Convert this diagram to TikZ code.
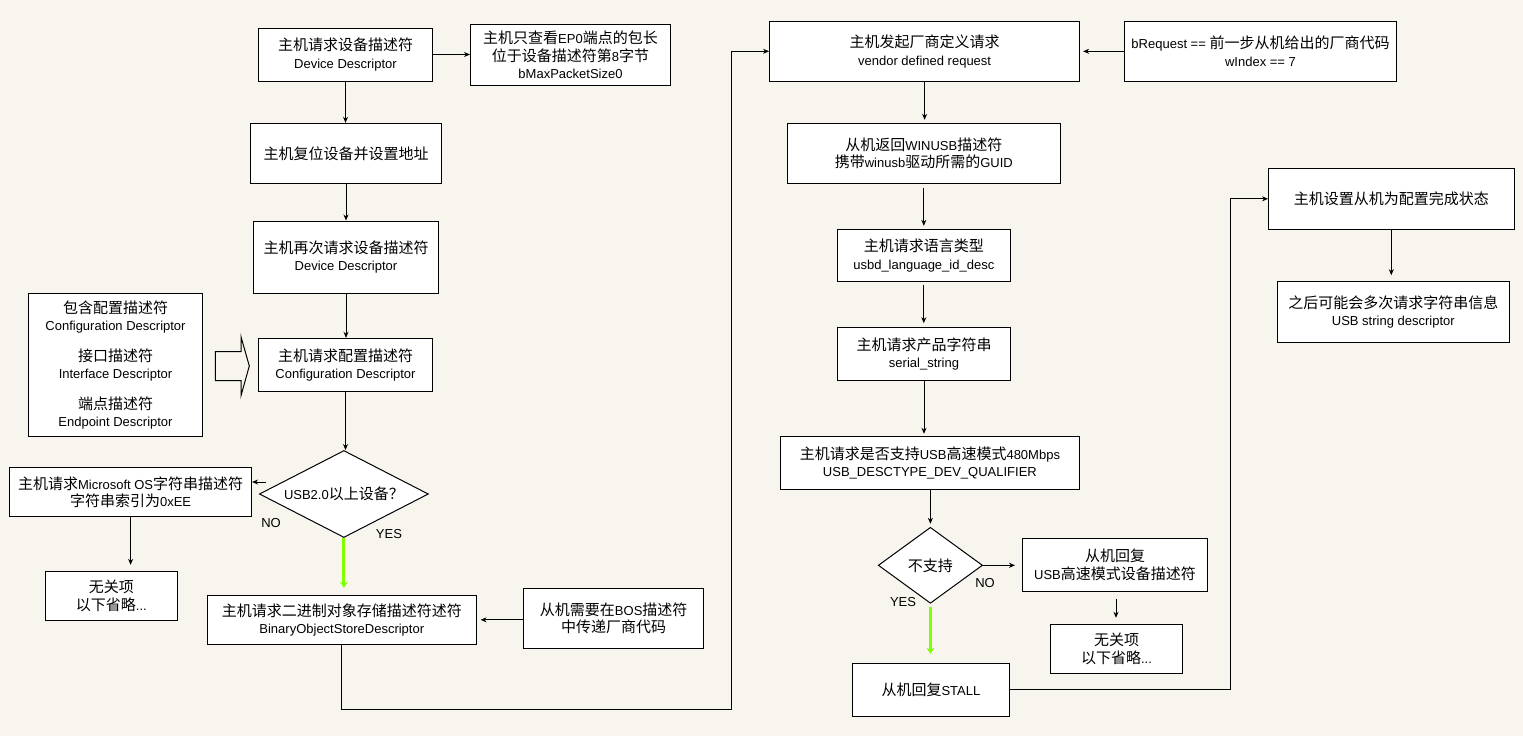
\documentclass[tikz,border=0pt]{standalone}
\usepackage{fontspec}
\setmainfont{Liberation Sans}
\newfontfamily\zhfont{Noto Sans CJK SC}
\usetikzlibrary{shapes.geometric,arrows.meta}
\newcommand\zc[1]{{\zhfont\fontsize{15}{17.5}\selectfont #1}}
\definecolor{bgc}{RGB}{248,245,238}
\definecolor{limec}{RGB}{128,255,0}
\begin{document}
\begin{tikzpicture}[x=1pt,y=-1pt,
 every node/.style={font=\fontsize{13}{17.5}\selectfont},
 box/.style={draw=black, line width=1pt, fill=white, align=center, inner sep=0pt},
 dec/.style={draw=black, line width=1pt, fill=white, shape=diamond, inner sep=0pt, align=center},
 arr/.style={line width=0.8pt, -{Stealth[length=6pt,width=5pt]}},
 garr/.style={draw=limec, line width=3pt, -{Stealth[length=6pt,width=8pt]}},
 lbl/.style={inner sep=0pt}]
\fill[bgc] (0,0) rectangle (1523,736);
\useasboundingbox (0,0) rectangle (1523,736);

% left column
\node[box, minimum width=174pt, minimum height=53pt] (dd1) at (345.5,54.5) {\zc{主机请求设备描述符}\\Device Descriptor};
\node[box, minimum width=200pt, minimum height=61pt] (ep0) at (570.5,54.8) {\zc{主机只查看}EP0\zc{端点的包长}\\\zc{位于设备描述符第}8\zc{字节}\\bMaxPacketSize0};
\node[box, minimum width=191pt, minimum height=60pt] (reset) at (346,153.3) {\zc{主机复位设备并设置地址}};
\node[box, minimum width=185pt, minimum height=72pt] (dd2) at (346,257) {\zc{主机再次请求设备描述符}\\Device Descriptor};
\node[box, minimum width=174pt, minimum height=143pt] (info) at (115.5,364.8) {\zc{包含配置描述符}\\Configuration Descriptor\\[13pt]\zc{接口描述符}\\Interface Descriptor\\[13pt]\zc{端点描述符}\\Endpoint Descriptor};
\node[box, minimum width=174pt, minimum height=53pt] (config) at (345.5,364.8) {\zc{主机请求配置描述符}\\Configuration Descriptor};
\node[dec, aspect=1.94, minimum width=169pt, minimum height=87pt] (dia1) at (343.9,494) {USB2.0\zc{以上设备？}};
\node[box, minimum width=242pt, minimum height=48.6pt] (msos) at (130.6,492) {\zc{主机请求}Microsoft OS\zc{字符串描述符}\\\zc{字符串索引为}0xEE};
\node[box, minimum width=131.7pt, minimum height=49pt] (nr1) at (111.4,595.8) {\zc{无关项}\\\zc{以下省略}...};
\node[box, minimum width=268.6pt, minimum height=49pt] (bos) at (341.8,619.8) {\zc{主机请求二进制对象存储描述符述符}\\BinaryObjectStoreDescriptor};
\node[box, minimum width=180.5pt, minimum height=60pt] (bosv) at (613.7,618.3) {\zc{从机需要在}BOS\zc{描述符}\\\zc{中传递厂商代码}};

% big hollow arrow
\draw[line width=1pt] (215.3,351.7) -- (241,351.7) -- (241,336.7) -- (249.3,366) -- (241,395.7) -- (241,380.7) -- (215.3,380.7) -- cycle;

% labels
\node[lbl] (no1) at (271,523) {NO};
\node[lbl] (yes1) at (389,534) {YES};

% middle column
\node[box, minimum width=310pt, minimum height=60pt] (vreq) at (924.6,51.3) {\zc{主机发起厂商定义请求}\\vendor defined request};
\node[box, minimum width=272pt, minimum height=60pt] (breq) at (1260.5,51.3) {bRequest == \zc{前一步从机给出的厂商代码}\\wIndex == 7};
\node[box, minimum width=273pt, minimum height=60pt] (winusb) at (923.8,153.3) {\zc{从机返回}WINUSB\zc{描述符}\\\zc{携带}winusb\zc{驱动所需的}GUID};
\node[box, minimum width=173pt, minimum height=52.4pt] (lang) at (923.8,255.5) {\zc{主机请求语言类型}\\usbd\_language\_id\_desc};
\node[box, minimum width=173pt, minimum height=52.6pt] (serial) at (924,354) {\zc{主机请求产品字符串}\\serial\_string};
\node[box, minimum width=299pt, minimum height=53pt] (hs) at (929.9,462.8) {\zc{主机请求是否支持}USB\zc{高速模式}480Mbps\\USB\_DESCTYPE\_DEV\_QUALIFIER};
\node[dec, aspect=1.37, minimum width=104.3pt, minimum height=76pt] (dia2) at (930.4,565.3) {\zc{不支持}};
\node[box, minimum width=185pt, minimum height=53.4pt] (hsreply) at (1115,565) {\zc{从机回复}\\USB\zc{高速模式设备描述符}};
\node[box, minimum width=132pt, minimum height=49pt] (nr2) at (1116.5,648.8) {\zc{无关项}\\\zc{以下省略}...};
\node[box, minimum width=157pt, minimum height=53pt] (stall) at (930.9,689.8) {\zc{从机回复}STALL};
\node[lbl] (no2) at (985,583) {NO};
\node[lbl] (yes2) at (903,602) {YES};

% right column
\node[box, minimum width=245.5pt, minimum height=61pt] (cfgdone) at (1391.3,198.8) {\zc{主机设置从机为配置完成状态}};
\node[box, minimum width=232pt, minimum height=60.6pt] (strdesc) at (1393.3,312) {\zc{之后可能会多次请求字符串信息}\\USB string descriptor};

% helper coordinates
\coordinate (nostart) at (266,482);
\coordinate (lowl) at (341.8,709);
\coordinate (lowr) at (731,709);
\coordinate (upl) at (731,51.3);
\coordinate (st1) at (1230,689.8);
\coordinate (st2) at (1230,198.8);
\coordinate (hsa) at (1116,599.3);

% connectors
\draw[arr] (dd1.east) -- (dd1.east -| ep0.west);
\draw[arr] (dd1.south) -- (dd1.south |- reset.north);
\draw[arr] (reset.south) -- (reset.south |- dd2.north);
\draw[arr] (dd2.south) -- (dd2.south |- config.north);
\draw[arr] (config.south) -- (config.south |- dia1.north);
\draw[arr] (nostart) -- (nostart -| msos.east);
\draw[garr, shorten >=7pt] (dia1.south) -- (dia1.south |- bos.north);
\draw[arr, shorten >=6pt] (msos.south) -- (msos.south |- nr1.north);
\draw[arr, shorten >=4pt] (bosv.west |- bos.east) -- (bos.east);
\draw[line width=0.8pt] (bos.south) -- (lowl) -- (lowr) -- (upl);
\draw[arr] (upl) -- (vreq.west);
\draw[arr, shorten >=3pt] (breq.west) -- (vreq.east);
\draw[arr, shorten >=3pt] (vreq.south) -- (vreq.south |- winusb.north);
\draw[arr, shorten <=4pt, shorten >=3pt] (winusb.south) -- (winusb.south |- lang.north);
\draw[arr, shorten <=3pt, shorten >=4pt] (lang.south) -- (lang.south |- serial.north);
\draw[arr, shorten >=2pt] (serial.south) -- (serial.south |- hs.north);
\draw[arr, shorten >=3pt] (hs.south -| dia2.north) -- (dia2.north);
\draw[arr, shorten >=7pt] (dia2.east) -- (dia2.east -| hsreply.west);
\draw[arr, shorten >=6pt] (hsa) -- (hsa |- nr2.north);
\draw[garr, shorten <=3pt, shorten >=9pt] (dia2.south) -- (dia2.south |- stall.north);
\draw[line width=0.8pt] (stall.east) -- (st1) -- (st2);
\draw[arr] (st2) -- (cfgdone.west);
\draw[arr, shorten >=6pt] (cfgdone.south) -- (cfgdone.south |- strdesc.north);
\end{tikzpicture}
\end{document}
